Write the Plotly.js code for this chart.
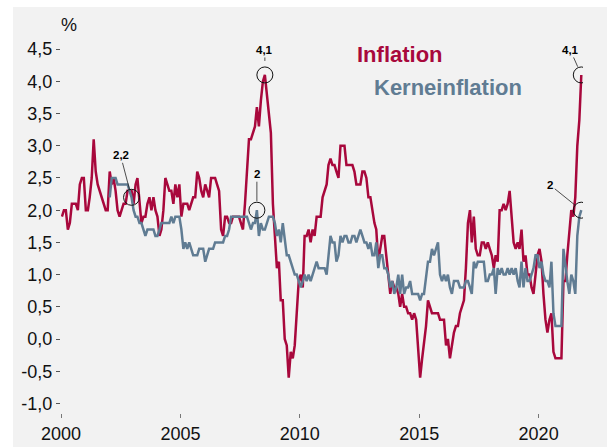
<!DOCTYPE html>
<html>
<head>
<meta charset="utf-8">
<script src="https://cdn.plot.ly/plotly-3.0.1.min.js"></script>
<style>
  html, body { margin: 0; padding: 0; background: #ffffff; width: 607px; height: 447px; overflow: hidden; }
  #chart { position: absolute; left: 13px; top: 7px; width: 594px; height: 440px; }
</style>
</head>
<body>
<div id="chart"></div>
<script>
// Monthly annual rates, Inflation from Jan 2000, Kerneinflation from Jan 2002 (to Oct 2021)
const inflationStart = [2000, 1];
const inflation = [
  1.9,2.0,2.0,1.7,1.8,2.1,2.1,2.1,2.0,2.4,2.5,2.5,
  2.0,2.0,2.2,2.5,3.1,2.6,2.4,2.3,2.2,2.1,2.0,2.0,
  2.6,2.4,2.5,2.3,2.0,1.9,2.0,2.1,2.1,2.3,2.3,2.3,
  2.1,2.4,2.5,2.1,1.8,1.9,1.9,2.1,2.2,2.0,2.2,2.0,
  1.9,1.6,1.7,2.0,2.5,2.4,2.3,2.3,2.1,2.4,2.2,2.4,
  1.9,2.1,2.1,2.1,2.0,2.1,2.2,2.2,2.6,2.5,2.3,2.2,
  2.4,2.3,2.2,2.5,2.5,2.5,2.4,2.3,1.7,1.6,1.9,1.9,
  1.8,1.8,1.9,1.9,1.9,1.9,1.8,1.7,2.1,2.6,3.1,3.1,
  3.2,3.3,3.6,3.3,3.7,4.0,4.1,3.8,3.6,3.2,2.1,1.6,
  1.1,1.2,0.6,0.6,0.0,-0.1,-0.6,-0.2,-0.3,-0.1,0.5,0.9,
  1.0,0.8,1.6,1.6,1.7,1.5,1.7,1.6,1.9,1.9,1.9,2.2,
  2.3,2.4,2.7,2.8,2.7,2.7,2.6,2.5,3.0,3.0,3.0,2.7,
  2.7,2.7,2.7,2.6,2.4,2.4,2.4,2.6,2.6,2.5,2.2,2.2,
  2.0,1.8,1.7,1.2,1.4,1.6,1.6,1.3,1.1,0.7,0.9,0.8,
  0.8,0.7,0.5,0.7,0.5,0.5,0.4,0.4,0.3,0.4,0.3,-0.2,
  -0.6,-0.3,-0.1,0.2,0.6,0.5,0.4,0.4,0.4,0.4,0.3,0.3,
  0.3,-0.1,0.0,-0.3,-0.1,0.1,0.2,0.2,0.4,0.5,0.6,1.1,
  1.8,2.0,1.5,1.9,1.4,1.3,1.3,1.5,1.5,1.4,1.5,1.4,
  1.3,1.1,1.3,1.2,2.0,2.0,2.1,2.0,2.1,2.3,1.9,1.5,
  1.4,1.5,1.4,1.7,1.2,1.3,1.0,1.0,0.8,0.7,1.0,1.3,
  1.4,1.2,0.7,0.3,0.1,0.3,0.4,-0.2,-0.3,-0.3,-0.3,-0.3,
  0.9,0.9,1.3,1.6,2.0,1.9,2.2,3.0,3.4,4.1
];
const coreStart = [2002, 1];
const core = [
  2.2,2.5,2.5,2.5,2.4,2.4,2.4,2.4,2.4,2.4,2.3,2.2,
  2.0,1.9,1.9,1.8,1.8,1.7,1.6,1.7,1.7,1.7,1.7,1.6,
  1.6,1.7,1.8,1.8,1.8,1.8,1.8,1.9,1.8,1.9,1.9,1.9,
  1.7,1.4,1.5,1.4,1.5,1.4,1.3,1.3,1.3,1.4,1.4,1.4,
  1.2,1.3,1.4,1.4,1.4,1.5,1.5,1.5,1.5,1.5,1.6,1.6,
  1.7,1.9,1.9,1.9,1.9,1.9,1.9,1.9,1.9,1.9,1.8,1.7,
  1.8,1.8,2.0,1.6,1.8,1.7,1.7,1.8,1.9,1.9,1.9,1.8,
  1.6,1.7,1.5,1.8,1.5,1.3,1.3,1.2,1.1,1.0,1.0,0.9,
  0.8,0.9,1.0,0.9,1.0,0.9,1.0,1.1,1.2,1.1,1.1,1.1,
  1.1,1.0,1.3,1.6,1.5,1.5,1.2,1.3,1.6,1.5,1.6,1.6,
  1.5,1.5,1.6,1.6,1.5,1.6,1.7,1.6,1.5,1.5,1.4,1.5,
  1.3,1.3,1.5,1.1,1.3,1.3,1.1,1.1,1.0,0.8,0.9,0.7,
  0.8,1.0,0.7,1.0,0.7,0.8,0.8,0.9,0.7,0.7,0.7,0.7,
  0.6,0.7,0.7,1.0,1.2,1.2,1.4,1.3,1.4,1.5,1.0,0.9,
  1.0,0.9,1.0,0.8,0.7,0.9,0.9,0.9,0.8,0.8,0.8,0.9,
  0.9,0.8,0.7,1.2,1.1,1.2,1.2,1.2,1.2,0.9,0.9,1.0,
  1.0,1.1,0.7,1.1,1.0,1.1,1.0,1.0,1.1,1.0,1.1,1.0,
  1.1,0.9,0.8,1.2,0.8,1.1,0.9,0.9,1.0,1.1,1.3,1.3,
  1.1,1.2,1.0,0.9,0.9,0.8,1.2,0.4,0.2,0.2,0.2,0.2,
  1.4,1.1,0.9,0.7,1.0,0.9,0.7,1.6,1.9,2.0
];
const xTickYears = [2000, 2005, 2010, 2015, 2020];
const yTickVals = [-1.0,-0.5,0.0,0.5,1.0,1.5,2.0,2.5,3.0,3.5,4.0,4.5];
const seriesNames = ['Inflation', 'Kerneinflation'];
// highlighted points: [series, year, month]
const highlights = [
  ['core', 2002, 12],
  ['inflation', 2008, 7],
  ['core', 2008, 3],
  ['inflation', 2021, 10],
  ['core', 2021, 10]
];
const highlightLabelOffsets = [[-11,-42],[0,-25],[0,-36],[-11,-25],[-31,-25]];
const highlightStandoff = [8, 14, 9, 9, 8];

function monthDates(start, n) {
  const out = [];
  for (let i = 0; i < n; i++) {
    const y = start[0] + Math.floor((start[1] - 1 + i) / 12);
    const m = ((start[1] - 1 + i) % 12) + 1;
    out.push(y + '-' + String(m).padStart(2, '0') + '-15');
  }
  return out;
}
const infDates = monthDates(inflationStart, inflation.length);
const coreDates = monthDates(coreStart, core.length);
function fmt(v) { return (Math.round(v * 10) / 10).toString().replace('.', ','); }
function lookup(series, y, m) {
  const d = y + '-' + String(m).padStart(2, '0') + '-15';
  if (series === 'core') return [d, core[coreDates.indexOf(d)]];
  return [d, inflation[infDates.indexOf(d)]];
}

const RED = '#a8083c';
const BLUE = '#607c93';
const FONT = 'Liberation Sans, Arial, sans-serif';

const traces = [
  { x: infDates, y: inflation, type: 'scatter', mode: 'lines', name: seriesNames[0],
    line: { color: RED, width: 2.5 }, hoverinfo: 'skip' },
  { x: coreDates, y: core, type: 'scatter', mode: 'lines', name: seriesNames[1],
    line: { color: BLUE, width: 2.5 }, hoverinfo: 'skip' }
];

const shapes = [];
const annotations = [];
highlights.forEach((h, i) => {
  const [d, v] = lookup(h[0], h[1], h[2]);
  shapes.push({ type: 'circle', xref: 'x', yref: 'y', xsizemode: 'pixel', ysizemode: 'pixel',
    xanchor: d, yanchor: v, x0: -8, x1: 8, y0: -8, y1: 8,
    line: { color: '#111111', width: 1 }, fillcolor: 'rgba(0,0,0,0)' });
  annotations.push({ x: d, y: v, xref: 'x', yref: 'y', text: '<b>' + fmt(v) + '</b>',
    showarrow: true, arrowhead: 0, arrowwidth: 0.8, arrowcolor: '#222222',
    ax: highlightLabelOffsets[i][0], ay: highlightLabelOffsets[i][1], standoff: highlightStandoff[i],
    font: { family: FONT, size: 11.5, color: '#000000' } });
});
annotations.push({ xref: 'paper', yref: 'paper', x: 0.0153, y: 0.987, xanchor: 'center', yanchor: 'middle',
  text: '%', showarrow: false, font: { family: FONT, size: 18, color: '#111111' } });
annotations.push({ xref: 'paper', yref: 'paper', x: 0.5632, y: 0.911, xanchor: 'left', yanchor: 'middle',
  text: '<b>' + seriesNames[0] + '</b>', showarrow: false, font: { family: FONT, size: 22, color: RED } });
annotations.push({ xref: 'paper', yref: 'paper', x: 0.5954, y: 0.828, xanchor: 'left', yanchor: 'middle',
  text: '<b>' + seriesNames[1] + '</b>', showarrow: false, font: { family: FONT, size: 22, color: BLUE } });

const layout = {
  width: 594, height: 440,
  margin: { l: 48, r: 24, t: 13, b: 34 },
  paper_bgcolor: '#f2f2f2', plot_bgcolor: '#f2f2f2',
  showlegend: false,
  font: { family: FONT, size: 18, color: '#111111' },
  xaxis: {
    type: 'date', range: ['2000-01-01', '2021-11-10'],
    tickvals: xTickYears.map(y => y + '-01-01'), ticktext: xTickYears.map(String),
    ticks: 'outside', ticklen: 4, tickwidth: 1, tickcolor: '#777777',
    showgrid: false, zeroline: false, showline: false,
    tickfont: { family: FONT, size: 18, color: '#111111' }
  },
  yaxis: {
    range: [-1.149, 4.953],
    tickvals: yTickVals, ticktext: yTickVals.map(v => v.toFixed(1).replace('.', ',')),
    ticks: 'outside', ticklen: 4, tickwidth: 1, tickcolor: '#555555',
    showgrid: false, zeroline: false, showline: false,
    tickfont: { family: FONT, size: 18, color: '#111111' }
  },
  shapes: shapes,
  annotations: annotations
};

Plotly.newPlot('chart', traces, layout, { displayModeBar: false, staticPlot: true });
</script>
</body>
</html>
